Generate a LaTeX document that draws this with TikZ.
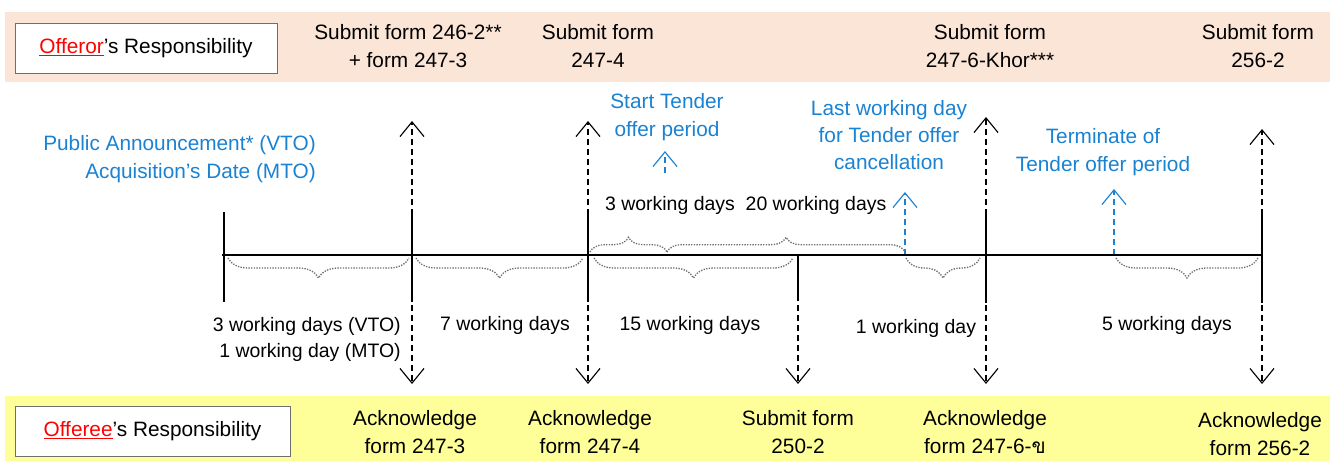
\documentclass[tikz,border=0pt]{standalone}
\usepackage{fontspec}
\setmainfont{Liberation Sans}
\newfontfamily\thaifont[Script=Thai]{Loma}
\usetikzlibrary{arrows.meta,decorations.pathreplacing}
\definecolor{peach}{HTML}{FBE5D6}
\definecolor{lyellow}{HTML}{FFFF99}
\definecolor{tblue}{RGB}{25,130,210}
\definecolor{bgray}{RGB}{110,110,110}
\begin{document}
\begin{tikzpicture}[x=0.75pt,y=-0.75pt,
  txt/.style={font=\fontsize{15.6}{20.5}\selectfont, align=center, inner sep=0pt},
  dtxt/.style={txt, font=\fontsize{14.6}{19.5}\selectfont},
  btxt/.style={txt, text=tblue},
  rbox/.style={draw=bgray, line width=0.6pt, fill=white, txt},
  tick/.style={line width=1.1pt},
  darr/.style={line width=0.9pt, dash pattern=on 4.5pt off 3pt,
    -{Straight Barb[length=11pt,width=18pt,line width=0.85pt]}},
  bdarr/.style={darr, draw=tblue},
  brc/.style={draw=bgray, line width=1pt, densely dotted, decorate,
    decoration={brace, amplitude=#1}},
  brc/.default=15pt
]
\useasboundingbox (0,0) rectangle (1334,461);
% bands
\fill[peach] (5,12) rectangle (1330,82);
\fill[lyellow] (5,396) rectangle (1330,461);

% responsibility boxes
\node[rbox, minimum width=196.5pt, minimum height=37.5pt] (offeror) at (146,48)
  {\textcolor{red}{\underline{Offeror}}'s Responsibility};
\node[rbox, minimum width=206.25pt, minimum height=37.5pt] (offeree) at (152.5,431)
  {\textcolor{red}{\underline{Offeree}}'s Responsibility};

% top band texts
\node[txt] (s1) at (408,46) {Submit form 246-2**\\+ form 247-3};
\node[txt] (s2) at (598,46) {Submit form\\247-4};
\node[txt] (s3) at (990,46) {Submit form\\247-6-Khor***};
\node[txt] (s4) at (1258,46) {Submit form\\256-2};

% bottom band texts
\node[txt] (a1) at (415,432) {Acknowledge\\form 247-3};
\node[txt] (a2) at (590,432) {Acknowledge\\form 247-4};
\node[txt] (a3) at (798,432) {Submit form\\250-2};
\node[txt] (a4) at (985,432) {Acknowledge\\form 247-6-{\thaifont ข}};
\node[txt] (a5) at (1260,434) {Acknowledge\\form 256-2};

% blue labels
\node[btxt, align=right, anchor=east] (pa) at (316,159) {Public Announcement* (VTO)\\Acquisition's Date (MTO)};
\node[btxt] (st) at (667,117) {Start Tender\\offer period};
\node[btxt] (lw) at (889,135) {Last working day\\for Tender offer\\cancellation};
\node[btxt] (te) at (1103,152) {Terminate of\\Tender offer period};

% duration labels
\node[dtxt, align=right, anchor=east] (d1) at (401,339) {3 working days (VTO)\\1 working day (MTO)};
\node[dtxt] (d2) at (505,325) {7 working days};
\node[dtxt] (d3) at (690,325) {15 working days};
\node[dtxt] (d4) at (916,328) {1 working day};
\node[dtxt] (d5) at (1167,325) {5 working days};
\node[dtxt] (d6) at (670,205) {3 working days};
\node[dtxt] (d7) at (816,205) {20 working days};

% timeline coordinates
\coordinate (L) at (222,255);
\coordinate (R) at (1263,255);
\coordinate (t1) at (224,255); \coordinate (t1a) at (224,212); \coordinate (t1b) at (224,302);
\coordinate (t2) at (412,255); \coordinate (t2a) at (412,212); \coordinate (t2b) at (412,302);
\coordinate (t3) at (588,255); \coordinate (t3a) at (588,212); \coordinate (t3b) at (588,302);
\coordinate (t4) at (798,255); \coordinate (t4b) at (798,301);
\coordinate (t5) at (986,255); \coordinate (t5a) at (986,214); \coordinate (t5b) at (986,303);
\coordinate (t6) at (1262,255); \coordinate (t6a) at (1262,213); \coordinate (t6b) at (1262,303);

\coordinate (u2) at (412,121); \coordinate (v2) at (412,384);
\coordinate (u3) at (588,121); \coordinate (v3) at (588,384);
\coordinate (v4) at (798,384);
\coordinate (u5) at (986,117); \coordinate (v5) at (986,384);
\coordinate (u6) at (1262,129); \coordinate (v6) at (1262,384);

% black dashed arrows
\draw[darr] (t2) -- (u2);
\draw[darr] (t2) -- (v2);
\draw[darr] (t3) -- (u3);
\draw[darr] (t3) -- (v3);
\draw[darr] (t4) -- (v4);
\draw[darr] (t5) -- (u5);
\draw[darr] (t5) -- (v5);
\draw[darr] (t6) -- (u6);
\draw[darr] (t6) -- (v6);

% blue dashed arrows
\coordinate (bst0) at (665,173); \coordinate (bst1) at (665,151);
\coordinate (blw0) at (905,255); \coordinate (blw1) at (905,192);
\coordinate (bte0) at (1114,255); \coordinate (bte1) at (1114,189);
\draw[bdarr] (bst0) -- (bst1);
\draw[bdarr] (blw0) -- (blw1);
\draw[bdarr] (bte0) -- (bte1);

% timeline and ticks
\draw[tick] (L) -- (R);
\draw[tick] (t1a) -- (t1b);
\draw[tick] (t2a) -- (t2b);
\draw[tick] (t3a) -- (t3b);
\draw[tick] (t4) -- (t4b);
\draw[tick] (t5a) -- (t5b);
\draw[tick] (t6a) -- (t6b);

% braces below
\coordinate (b1s) at (228,258); \coordinate (b1e) at (409,258);
\coordinate (b2s) at (416,258); \coordinate (b2e) at (583,258);
\coordinate (b3s) at (594,258); \coordinate (b3e) at (793,258);
\coordinate (b4s) at (906,258); \coordinate (b4e) at (980,258);
\coordinate (b5s) at (1116,258); \coordinate (b5e) at (1258,258);
\draw[brc, decoration={mirror}] (b1s) -- (b1e);
\draw[brc, decoration={mirror}] (b2s) -- (b2e);
\draw[brc, decoration={mirror}] (b3s) -- (b3e);
\draw[brc, decoration={mirror}] (b4s) -- (b4e);
\draw[brc, decoration={mirror}] (b5s) -- (b5e);

% braces above
\coordinate (c1s) at (590,252); \coordinate (c1e) at (667,252);
\coordinate (c2s) at (667,252); \coordinate (c2e) at (905,252);
\draw[brc=11pt] (c1s) -- (c1e);
\draw[brc=11pt] (c2s) -- (c2e);
\end{tikzpicture}
\end{document}
